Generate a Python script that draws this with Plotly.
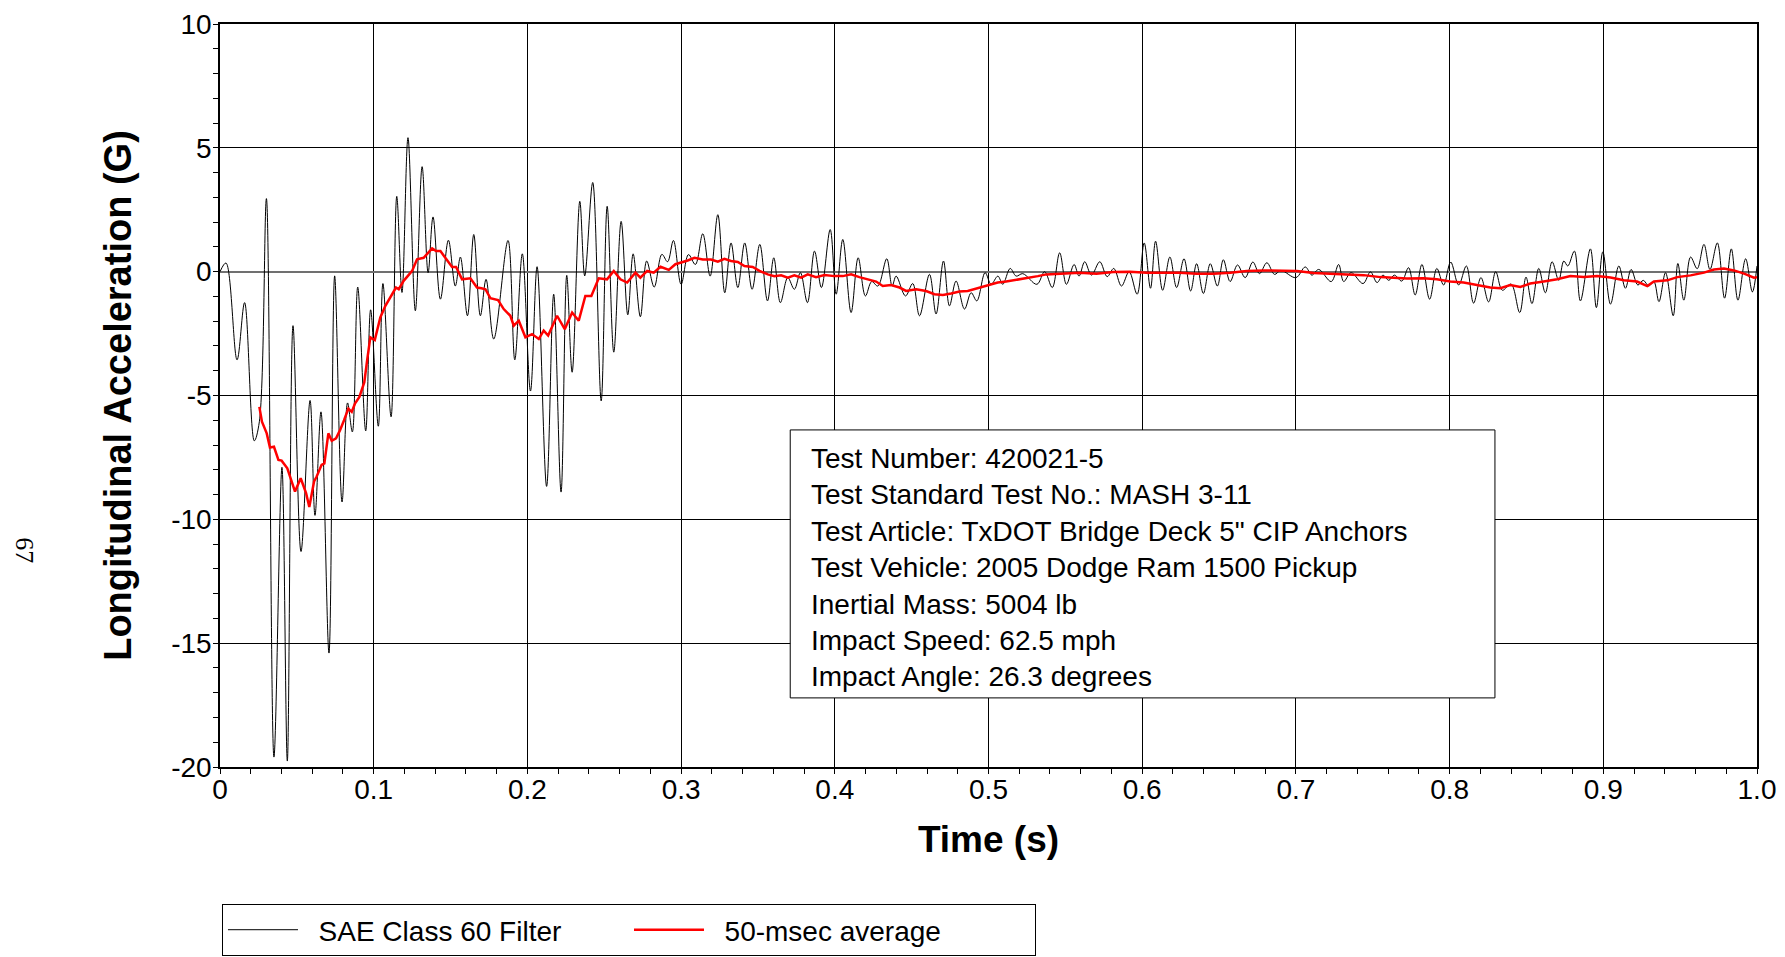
import plotly.graph_objects as go

# SAE Class 60 filtered signal: peaks and troughs (time s, accel G)
t_filter = [
    0.0000, 0.0039, 0.0111, 0.0160, 0.0223, 0.0256, 0.0302, 0.0351, 0.0403, 0.0438,
    0.0475, 0.0527, 0.0586, 0.0618, 0.0657, 0.0709, 0.0746, 0.0794, 0.0830, 0.0861,
    0.0896, 0.0948, 0.0980, 0.1030, 0.1060, 0.1113, 0.1150, 0.1184, 0.1223, 0.1271,
    0.1315, 0.1354, 0.1386, 0.1434, 0.1486, 0.1531, 0.1564, 0.1610, 0.1651, 0.1694,
    0.1731, 0.1781, 0.1874, 0.1918, 0.1967, 0.2020, 0.2063, 0.2125, 0.2171, 0.2219,
    0.2256, 0.2291, 0.2341, 0.2373, 0.2425, 0.2480, 0.2519, 0.2562, 0.2610, 0.2653,
    0.2688, 0.2735, 0.2776, 0.2825, 0.2875, 0.2912, 0.2950, 0.3000,
    0.3048, 0.3093, 0.3141, 0.3189, 0.3239, 0.3284, 0.3325, 0.3369, 0.3414, 0.3462,
    0.3512, 0.3562, 0.3603, 0.3646, 0.3694, 0.3737, 0.3776, 0.3822, 0.3868, 0.3913,
    0.3970, 0.4009, 0.4052, 0.4106, 0.4152, 0.4199, 0.4240, 0.4280, 0.4338, 0.4373,
    0.4399, 0.4460, 0.4507, 0.4551, 0.4616, 0.4659, 0.4707, 0.4746, 0.4789, 0.4844,
    0.4887, 0.4924, 0.4978, 0.5017, 0.5061, 0.5093, 0.5141, 0.5180, 0.5223, 0.5315,
    0.5365, 0.5415, 0.5463, 0.5507, 0.5557, 0.5589, 0.5626, 0.5670, 0.5724, 0.5772,
    0.5815, 0.5865, 0.5915, 0.5967, 0.6013, 0.6054, 0.6087, 0.6133, 0.6180, 0.6224,
    0.6272, 0.6315, 0.6354, 0.6398, 0.6443, 0.6489, 0.6528, 0.6572, 0.6620, 0.6670,
    0.6720, 0.6763, 0.6811, 0.6861, 0.6902, 0.7000, 0.7061, 0.7104, 0.7148, 0.7230,
    0.7278, 0.7311, 0.7359, 0.7437, 0.7485, 0.7528, 0.7567, 0.7604, 0.7641, 0.7689,
    0.7733, 0.7776, 0.7820, 0.7870, 0.7917, 0.7961, 0.8007, 0.8059, 0.8109, 0.8156,
    0.8204, 0.8254, 0.8300, 0.8343, 0.8400, 0.8456, 0.8497, 0.8536, 0.8580, 0.8623,
    0.8667, 0.8710, 0.8743, 0.8769, 0.8812, 0.8851, 0.8916, 0.8955, 0.8997, 0.9047,
    0.9101, 0.9144, 0.9181, 0.9225, 0.9260, 0.9296, 0.9329, 0.9362, 0.9405, 0.9455,
    0.9485, 0.9524, 0.9568, 0.9611, 0.9655, 0.9694, 0.9742, 0.9789, 0.9833, 0.9876,
    0.9926, 0.9970, 1.0000,
]
g_filter = [
    0.00, 0.35, -3.56, -1.25, -6.83, -6.06, 2.95, -19.60, -7.90, -19.76,
    -2.18, -11.30, -5.20, -9.84, -5.66, -15.40, -0.17, -9.30, -5.30, -6.47,
    -0.62, -6.43, -1.54, -6.24, -0.48, -5.86, 3.04, -0.84, 5.41, -1.58,
    4.24, -0.04, 2.21, -1.11, 1.27, -0.58, 0.59, -1.78, 1.50, -1.78,
    -0.31, -2.72, 1.26, -3.56, 0.72, -4.82, 0.20, -8.67, -0.91, -8.90,
    -0.15, -4.06, 2.84, -0.17, 3.60, -5.22, 2.64, -3.25, 2.03, -1.74,
    0.72, -1.82, 0.43, -0.62, 0.70, 0.40, 1.26, -0.51,
    0.69, 0.29, 1.53, -0.18, 2.30, -0.85, 1.16, -0.64, 1.16, -0.71,
    1.10, -1.18, 0.56, -1.25, -0.24, -0.71, -0.04, -1.25, 0.83, -0.64,
    1.70, -0.91, 1.30, -1.65, 0.56, -0.98, -0.40, -0.58, 0.52, -0.58,
    -0.18, -0.98, -0.48, -1.78, -0.11, -1.71, 0.43, -1.38, -0.38, -1.51,
    -0.85, -1.18, -0.04, -0.51, -0.18, -0.51, 0.13, -0.18, -0.08, -0.51,
    0.00, -0.64, 0.76, -0.51, 0.29, -0.18, 0.40, -0.14, 0.40, -0.20,
    0.13, -0.58, 0.00, -0.91, 1.16, -0.67, 1.23, -0.75, 0.59, -0.64,
    0.52, -0.78, 0.32, -0.88, 0.32, -0.58, 0.48, -0.40, 0.27, -0.24,
    0.39, -0.08, 0.36, -0.11, 0.05, -0.24, 0.19, -0.14, 0.09, -0.40,
    0.29, -0.40, -0.04, -0.48, -0.01, -0.44, -0.14, -0.35, -0.14, -0.38,
    0.16, -0.94, 0.29, -1.11, 0.13, -0.54, 0.39, -0.54, 0.23, -1.27,
    -0.24, -1.22, 0.00, -0.75, -0.50, -1.65, -0.22, -1.29, 0.13, -0.85,
    0.40, -0.35, 0.43, 0.23, 0.83, -1.18, 0.92, -1.45, 0.80, -1.31,
    0.23, -0.67, 0.09, -0.54, -0.35, -0.58, -0.40, -1.21, -0.04, -1.78,
    0.33, -1.15, 0.59, 0.12, 1.10, 0.09, 1.16, -1.07, 0.92, -1.15,
    0.52, -0.82, 0.23,
]

# 50-msec moving average
t_avg = [
    0.0256, 0.0273, 0.0304, 0.0325, 0.0351, 0.0380, 0.0401, 0.0438, 0.0488, 0.0525,
    0.0560, 0.0581, 0.0612, 0.0629, 0.0661, 0.0679, 0.0705, 0.0727, 0.0755, 0.0781,
    0.0807, 0.0835, 0.0857, 0.0878, 0.0907, 0.0939, 0.0957, 0.0978, 0.1007, 0.1043,
    0.1076, 0.1115, 0.1145, 0.1163, 0.1195, 0.1228, 0.1250, 0.1282, 0.1325, 0.1380,
    0.1406, 0.1434, 0.1477, 0.1510, 0.1536, 0.1575, 0.1629, 0.1672, 0.1701, 0.1727,
    0.1759, 0.1809, 0.1846, 0.1889, 0.1911, 0.1944, 0.1987, 0.2030, 0.2074, 0.2106,
    0.2135, 0.2193, 0.2243, 0.2291, 0.2334, 0.2377, 0.2416, 0.2464, 0.2518, 0.2562,
    0.2605, 0.2649, 0.2703, 0.2735, 0.2779, 0.2822, 0.2866, 0.2920, 0.2963, 0.3000,
    0.3043, 0.3087, 0.3141, 0.3195, 0.3239, 0.3282, 0.3325, 0.3369, 0.3412, 0.3466,
    0.3510, 0.3564, 0.3607, 0.3651, 0.3694, 0.3737, 0.3781, 0.3824, 0.3878, 0.3933,
    0.3998, 0.4052, 0.4106, 0.4160, 0.4215, 0.4269, 0.4312, 0.4366, 0.4421, 0.4464,
    0.4529, 0.4594, 0.4648, 0.4703, 0.4757, 0.4811, 0.4865, 0.4909, 0.4952, 0.5006,
    0.5060, 0.5115, 0.5169, 0.5223, 0.5278, 0.5321, 0.5376, 0.5485, 0.5593, 0.5702,
    0.5811, 0.5920, 0.6028, 0.6137, 0.6246, 0.6354, 0.6463, 0.6572, 0.6680, 0.6789,
    0.6898, 0.7007, 0.7115, 0.7224, 0.7333, 0.7441, 0.7550, 0.7613, 0.7722, 0.7831,
    0.7917, 0.8004, 0.8091, 0.8178, 0.8265, 0.8330, 0.8395, 0.8460, 0.8525, 0.8612,
    0.8699, 0.8786, 0.8873, 0.8960, 0.9047, 0.9134, 0.9220, 0.9286, 0.9329, 0.9416,
    0.9481, 0.9568, 0.9655, 0.9720, 0.9785, 0.9850, 0.9916, 0.9980, 1.0000,
]
g_avg = [
    -5.46, -6.06, -6.53, -7.10, -7.07, -7.60, -7.63, -7.94, -8.88, -8.34,
    -8.94, -9.50, -8.47, -8.27, -7.80, -7.74, -6.53, -6.83, -6.73, -6.40,
    -6.00, -5.53, -5.66, -5.33, -5.06, -4.46, -3.59, -2.65, -2.76, -1.85,
    -1.38, -0.98, -0.64, -0.71, -0.37, -0.13, 0.03, 0.50, 0.56, 0.94,
    0.83, 0.83, 0.46, 0.19, 0.19, -0.31, -0.27, -0.64, -0.67, -0.71,
    -1.07, -1.15, -1.51, -1.78, -2.18, -1.98, -2.65, -2.52, -2.72, -2.38,
    -2.58, -1.78, -2.32, -1.65, -1.98, -0.98, -0.98, -0.27, -0.31, 0.03,
    -0.31, -0.44, -0.04, -0.24, 0.03, -0.04, 0.20, 0.07, 0.30, 0.36,
    0.45, 0.56, 0.49, 0.49, 0.40, 0.52, 0.43, 0.39, 0.23, 0.19,
    0.03, -0.11, -0.18, -0.15, -0.24, -0.15, -0.24, -0.11, -0.22, -0.14,
    -0.18, -0.18, -0.11, -0.22, -0.31, -0.40, -0.58, -0.54, -0.64, -0.78,
    -0.71, -0.78, -0.91, -0.94, -0.88, -0.80, -0.78, -0.71, -0.62, -0.54,
    -0.44, -0.40, -0.35, -0.27, -0.22, -0.18, -0.11, -0.08, -0.04, -0.08,
    -0.01, 0.00, -0.04, -0.04, -0.04, -0.08, -0.08, -0.04, 0.03, 0.05,
    0.05, 0.03, -0.05, -0.08, -0.11, -0.14, -0.22, -0.24, -0.28, -0.27,
    -0.31, -0.40, -0.44, -0.54, -0.64, -0.67, -0.54, -0.62, -0.48, -0.40,
    -0.31, -0.18, -0.22, -0.18, -0.24, -0.35, -0.40, -0.58, -0.40, -0.35,
    -0.22, -0.15, -0.04, 0.09, 0.13, 0.05, -0.08, -0.24, -0.22,
]

x_ticks = [0, 0.1, 0.2, 0.3, 0.4, 0.5, 0.6, 0.7, 0.8, 0.9, 1.0]
x_ticktext = ["0", "0.1", "0.2", "0.3", "0.4", "0.5", "0.6", "0.7", "0.8", "0.9", "1.0"]
y_ticks = [-20, -15, -10, -5, 0, 5, 10]
y_ticktext = ["-20", "-15", "-10", "-5", "0", "5", "10"]

info_lines = [
    "Test Number: 420021-5",
    "Test Standard Test No.: MASH 3-11",
    "Test Article: TxDOT Bridge Deck 5\" CIP Anchors",
    "Test Vehicle: 2005 Dodge Ram 1500 Pickup",
    "Inertial Mass: 5004 lb",
    "Impact Speed: 62.5 mph",
    "Impact Angle: 26.3 degrees",
]

FONT = "Liberation Sans, Arial, sans-serif"
PAD = "\u00a0\u00a0"  # small gap between legend line sample and its text

fig = go.Figure()
fig.add_trace(go.Scatter(
    x=t_filter, y=g_filter, mode="lines", name=PAD + "SAE Class 60 Filter",
    line=dict(color="black", width=1, shape="spline", smoothing=1.0),
))
fig.add_trace(go.Scatter(
    x=t_avg, y=g_avg, mode="lines", name=PAD + "50-msec average",
    line=dict(color="#ff0000", width=2.5),
))

axis_common = dict(
    showgrid=True, gridcolor="black", gridwidth=1,
    showline=True, linecolor="black", linewidth=1.5, mirror=True,
    ticks="outside", ticklen=5, tickcolor="black",
    tickfont=dict(family=FONT, size=28, color="black"),
    ticklabeloverflow="allow",
)

fig.update_xaxes(
    range=[0, 1], tickvals=x_ticks, ticktext=x_ticktext,
    minor=dict(dtick=0.02, ticks="outside", ticklen=5, tickcolor="black", showgrid=False),
    zeroline=False, ticklabelstandoff=-8,
    title=dict(text="<b>Time (s)</b>", font=dict(family=FONT, size=37, color="black"), standoff=22),
    **axis_common,
)
fig.update_yaxes(
    range=[-20, 10], tickvals=y_ticks, ticktext=y_ticktext,
    minor=dict(dtick=1, ticks="outside", ticklen=5, tickcolor="black", showgrid=False),
    zeroline=True, zerolinecolor="#707070", zerolinewidth=1.5, ticklabelstandoff=-4,
    title=dict(text="<b>Longitudinal Acceleration (G)</b>",
               font=dict(family=FONT, size=38, color="black"), standoff=28),
    **axis_common,
)

# test information box
fig.add_shape(
    type="rect", xref="x", yref="y", x0=0.371, x1=0.8295, y0=-17.21, y1=-6.39,
    fillcolor="white", line=dict(color="black", width=1), layer="above",
)
fig.add_annotation(
    xref="x", yref="y", x=0.3832, y=-11.94, xanchor="left", yanchor="middle",
    text="<br>".join(info_lines), align="left",
    font=dict(family=FONT, size=28, color="black"), showarrow=False,
)

# page number of the original report page
fig.add_annotation(
    xref="paper", yref="paper", x=-0.127, y=0.292, xanchor="center", yanchor="middle",
    text="67", textangle=90,
    font=dict(family="Liberation Serif, serif", size=26, color="black"),
    showarrow=False,
)

fig.update_layout(
    width=1777, height=949,
    margin=dict(l=212, r=28, t=16, b=190, autoexpand=False),
    paper_bgcolor="white", plot_bgcolor="white",
    showlegend=True,
    legend=dict(
        orientation="h", x=0.0013, y=-0.1844, xanchor="left", yanchor="top",
        bordercolor="black", borderwidth=1, bgcolor="white",
        font=dict(family=FONT, size=28, color="black"),
        itemwidth=70, entrywidth=321,
    ),
    hovermode="closest",
)

fig.write_html("out.html")
